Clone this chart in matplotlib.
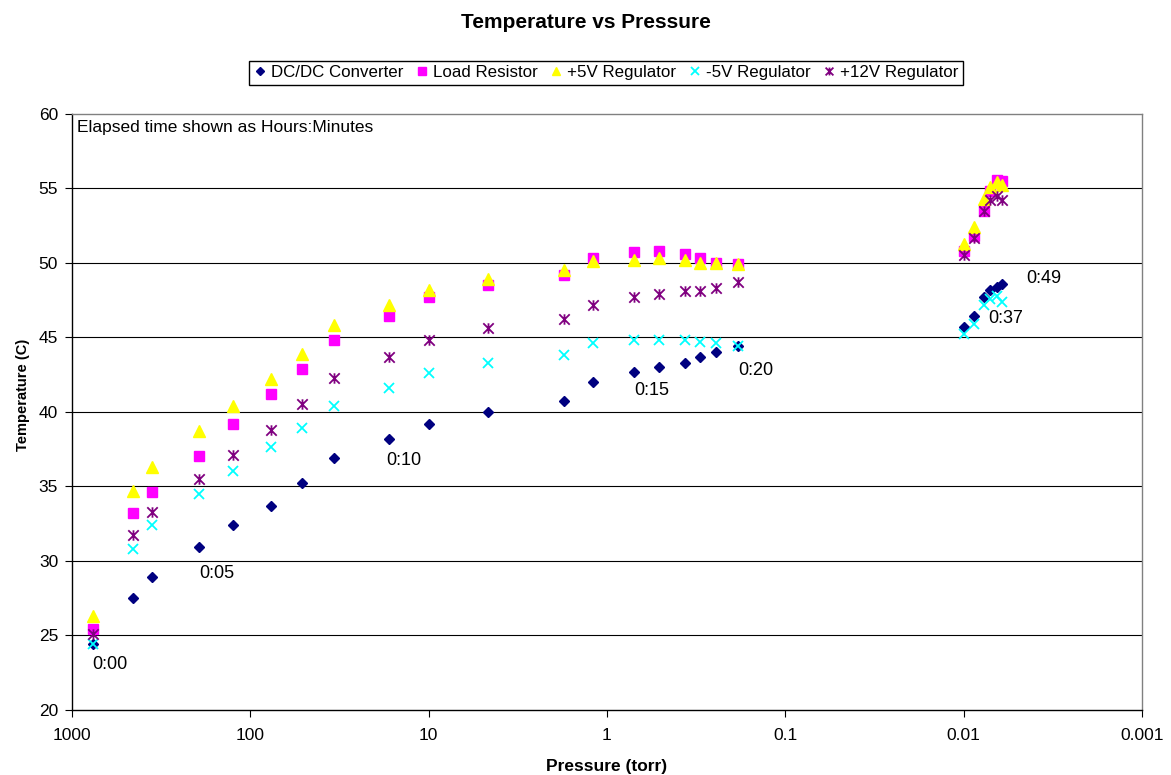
import matplotlib
matplotlib.use("Agg")
import matplotlib.pyplot as plt
from matplotlib.path import Path

plt.rcParams['font.family'] = ['Liberation Sans', 'DejaVu Sans']

# pressure (torr) at each reading, one per minute after the first
pressure = [760, 456, 357, 193, 125, 76.5, 51.5, 33.8, 16.7, 10.0, 4.62, 1.74,
            1.20, 0.702, 0.508, 0.365, 0.302, 0.244, 0.1845,
            0.0100, 0.00873, 0.00767, 0.00716, 0.00646, 0.00611]

dcdc = [24.4, 27.5, 28.9, 30.9, 32.4, 33.7, 35.2, 36.9, 38.2, 39.2, 40.0, 40.7,
        42.0, 42.7, 43.0, 43.3, 43.7, 44.0, 44.4,
        45.7, 46.4, 47.7, 48.2, 48.4, 48.6]
load_res = [25.4, 33.2, 34.6, 37.0, 39.2, 41.2, 42.9, 44.8, 46.4, 47.7, 48.5, 49.2,
            50.3, 50.7, 50.8, 50.6, 50.3, 50.0, 49.9,
            50.8, 51.8, 53.5, 54.8, 55.6, 55.5]
reg_p5 = [26.3, 34.7, 36.3, 38.7, 40.4, 42.2, 43.9, 45.8, 47.2, 48.2, 48.9, 49.5,
          50.1, 50.2, 50.3, 50.2, 50.0, 50.0, 49.9,
          51.3, 52.4, 54.3, 55.1, 55.4, 55.2]
reg_m5 = [24.4, 30.8, 32.4, 34.5, 36.0, 37.6, 38.9, 40.4, 41.6, 42.6, 43.3, 43.8,
          44.6, 44.8, 44.8, 44.8, 44.7, 44.6, 44.4,
          45.2, 45.9, 47.2, 47.6, 47.8, 47.4]
reg_p12 = [25.1, 31.7, 33.3, 35.5, 37.1, 38.8, 40.5, 42.3, 43.7, 44.8, 45.6, 46.2,
           47.2, 47.7, 47.9, 48.1, 48.1, 48.3, 48.7,
           50.5, 51.7, 53.5, 54.2, 54.5, 54.2]

time_labels = ['0:00', '0:05', '0:10', '0:15', '0:20', '0:37', '0:49']
label_index = [0, 3, 8, 13, 18, 19, 24]

x_ticks = [1000, 100, 10, 1, 0.1, 0.01, 0.001]
x_tick_labels = ['1000', '100', '10', '1', '0.1', '0.01', '0.001']

# excel style "star" marker: an x with a vertical bar
star = Path([(-1, -1), (1, 1), (-1, 1), (1, -1), (0, -1), (0, 1)],
            [Path.MOVETO, Path.LINETO, Path.MOVETO, Path.LINETO, Path.MOVETO, Path.LINETO])

fig = plt.figure(figsize=(11.71, 7.75), dpi=100)
ax = fig.add_axes([0.0615, 0.0845, 0.9137, 0.7684])

ax.plot(pressure, dcdc, ls='none', marker='D', ms=5.2, color='#000080', label='DC/DC Converter')
ax.plot(pressure, load_res, ls='none', marker='s', ms=7, color='#FF00FF', label='Load Resistor')
ax.plot(pressure, reg_p5, ls='none', marker='^', ms=8, color='#FFFF00', label='+5V Regulator')
ax.plot(pressure, reg_m5, ls='none', marker='x', ms=7, mew=1.3, color='#00FFFF', label='-5V Regulator')
ax.plot(pressure, reg_p12, ls='none', marker=star, ms=7.5, mew=1.3, color='#800080', label='+12V Regulator')

offsets = [(-1, -20), (0, -26), (-3, -22), (0, -19), (0, -24), (25, 8), (24, 5)]
for lab, i, off in zip(time_labels, label_index, offsets):
    ax.annotate(lab, xy=(pressure[i], dcdc[i]), xytext=off, textcoords='offset pixels',
                ha='left', va='center', fontsize=13)

ax.text(0.0047, 0.9765, 'Elapsed time shown as Hours:Minutes', transform=ax.transAxes,
        ha='left', va='center', fontsize=12.5)

ax.set_xscale('log')
ax.set_xlim(1000, 0.001)
ax.set_ylim(20, 60)
ax.set_xticks(x_ticks)
ax.set_xticklabels(x_tick_labels)
ax.xaxis.set_minor_locator(matplotlib.ticker.NullLocator())
ax.set_yticks(range(20, 61, 5))
ax.tick_params(axis='both', labelsize=12.5, length=5, width=0.8, direction='out')
ax.tick_params(axis='x', pad=8)
ax.tick_params(axis='y', pad=5)

for y in range(25, 60, 5):
    ax.axhline(y, color='black', lw=0.8, zorder=0)

ax.spines['left'].set_color('black')
ax.spines['bottom'].set_color('black')
ax.spines['top'].set_color('#808080')
ax.spines['right'].set_color('#808080')
for s in ax.spines.values():
    s.set_linewidth(1.0)

fig.text(0.5, 0.9715, 'Temperature vs Pressure', ha='center', va='center',
         fontsize=15, fontweight='bold')
fig.text(0.518, 0.0115, 'Pressure (torr)', ha='center', va='center',
         fontsize=12.5, fontweight='bold')
fig.text(0.02, 0.491, 'Temperature (C)', ha='center', va='center', rotation=90,
         fontsize=10.5, fontweight='bold')

leg = fig.legend(loc='center', bbox_to_anchor=(0.5175, 0.906), ncol=5, fontsize=12.2,
                 frameon=True, fancybox=False, edgecolor='black', framealpha=1,
                 markerscale=0.75, handlelength=0.8, handletextpad=0.25,
                 columnspacing=0.7, borderpad=0.25)
leg.get_frame().set_linewidth(1.0)

fig.savefig('out.png', dpi=100)
